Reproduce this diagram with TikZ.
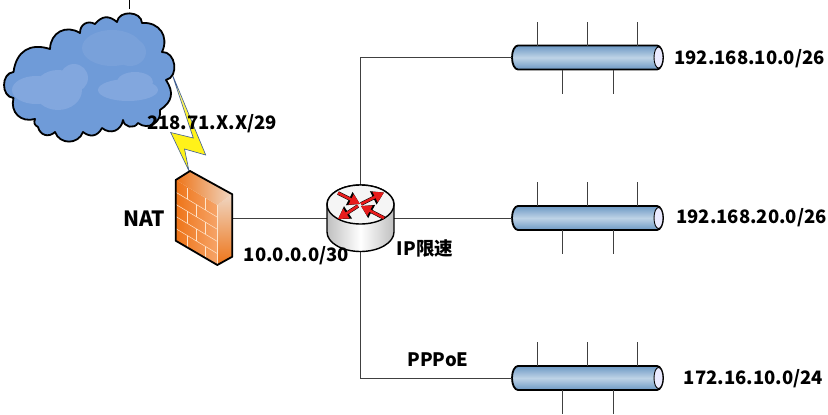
\documentclass[tikz,border=0pt]{standalone}
\usepackage{fontspec}
\setmainfont{Noto Sans CJK SC}
\usetikzlibrary{arrows.meta}
\definecolor{cloudbase}{HTML}{6F9BD8}
\definecolor{cloudlight}{HTML}{82A7DE}
\definecolor{cloudmid}{HTML}{79A1DA}
\definecolor{busedge}{HTML}{6C98C4}
\definecolor{busmid}{HTML}{BED3E6}
\definecolor{wallor}{HTML}{EE7418}
\definecolor{walllt}{HTML}{F6A468}
\definecolor{wallpale}{HTML}{EFD6C2}
\definecolor{boltyel}{HTML}{FFF21A}
\definecolor{boltline}{HTML}{3E5C94}
\definecolor{arrowred}{HTML}{E81C1C}
\tikzset{
  lbl/.style={font=\bfseries\fontsize{18.5}{20}\selectfont,text=black,inner sep=0pt,anchor=center},
  holder/.style={inner sep=0pt,outer sep=0pt},
  conn/.style={draw=black!75,line width=.8pt},
  heavy/.style={draw=black,line width=1.8pt,line join=round},
  brick/.style={draw=white!80!orange,line width=.5pt},
  redtail/.style={draw=black,line width=3.6pt,-{Triangle[length=12pt,width=14pt]}},
  redcore/.style={draw=arrowred,line width=2.6pt,-{Triangle[length=10pt,width=11pt]}},
}
\newcommand{\busat}[2]{%
  \node[holder,minimum width=151pt,minimum height=24pt] (#1) at (587.5,#2) {};
  \path[heavy,top color=busedge,bottom color=busedge,middle color=busmid]
    (518,#2-12) -- (657,#2-12) arc[start angle=-90,end angle=90,x radius=6,y radius=12]
    -- (518,#2+12) arc[start angle=90,end angle=270,x radius=6,y radius=12] -- cycle;
  \path[draw=black,line width=.9pt,fill=white!92!blue] (658.5,#2) ellipse[x radius=4.5,y radius=10.5];
  \foreach \tx in {537,587,637}{\coordinate (#1t\tx) at (\tx,#2-12); \draw[conn] (#1t\tx) -- ++(0,-24);}
  \foreach \tx in {562,613}{\coordinate (#1b\tx) at (\tx,#2+12); \draw[conn] (#1b\tx) -- ++(0,24);}
}
\begin{document}
\begin{tikzpicture}[x=1pt,y=-1pt]
\useasboundingbox (0,0) rectangle (828,415);
\fill[white] (0,0) rectangle (828,415);
% holders for icons
\node[holder,minimum width=57pt,minimum height=94pt] (wall) at (204,218) {};
\node[holder,minimum width=67pt,minimum height=66pt] (router) at (360.5,218) {};
\node[holder,minimum width=172pt,minimum height=130pt] (cloud) at (87,75) {};
\coordinate (cloudtop) at (129,0);
\coordinate (cloudpeak) at (129,9);
% connectors
\draw[conn] (wall.east) -- (router.west);
\busat{busa}{57.5}
\busat{busb}{218}
\busat{busc}{378}
\draw[conn] (router.north) |- (busa.west);
\draw[conn] (router.east) -- (busb.west);
\draw[conn] (router.south) |- (busc.west);
\draw[draw=black,line width=.8pt] (cloudtop) -- (cloudpeak);
% bolt
\path[draw=boltline,line width=.6pt,top color=white!75!boltyel,bottom color=boltyel,middle color=boltyel]
  (171.7,73) -- (205.7,155) -- (184.5,149) -- (189,171) -- (170.7,132.5) -- (193.3,138) -- cycle;
% cloud
\path[draw=black,line width=1.8pt,fill=cloudbase,line join=round,looseness=1.25]
  (13.5,98) to[bend left=85] (13.5,72)
  to[bend left=50] (50,49) to[bend left=60] (80,33)
  to[bend left=60] (95,24) to[bend left=45] (117,22)
  to[bend left=85] (142,23) to[bend left=60] (162,52)
  to[bend left=85] (166,80) to[bend left=45] (160,110)
  to[bend left=70] (138,123) to[bend left=70] (123,120)
  to[bend left=60] (102,128) to[bend left=50] (83,132)
  to[bend left=70] (55,132) to[bend left=60] (38,127)
  to[bend left=40] (35,119) to[bend left=60] cycle;
\fill[cloudmid] (112,48) ellipse[x radius=30,y radius=18];
\fill[cloudmid] (130,52) ellipse[x radius=16,y radius=14];
\fill[cloudlight] (36,90) ellipse[x radius=24,y radius=14];
\fill[cloudlight] (58,90) ellipse[x radius=24,y radius=20];
\fill[cloudlight] (74,78) ellipse[x radius=14,y radius=14];
\fill[cloudlight] (128,90) ellipse[x radius=30,y radius=11];
\fill[cloudlight] (135,82) ellipse[x radius=18,y radius=10];
% firewall
\path[left color=wallor,right color=walllt] (175.7,180) -- (217.3,205) -- (217.3,265) -- (175.7,240.7) -- cycle;
\path[top color=wallpale,bottom color=wallor] (217.3,205) -- (232.3,194.3) -- (232.3,256.7) -- (217.3,265) -- cycle;
\path[left color=wallor,right color=wallpale] (175.7,180) -- (190,171) -- (232.3,194.3) -- (217.3,205) -- cycle;
\begin{scope}[shift={(175.7,180)},x={(41.6pt,-25pt)},y={(0pt,-60.7pt)}]
  \foreach \v in {.2,.4,.6,.8}{\draw[brick] (0,\v) -- (1,\v);}
  \draw[brick] (.28,0.02) -- (.28,.2) (.72,.0) -- (.72,.2);
  \draw[brick] (.5,.2) -- (.5,.4);
  \draw[brick] (.28,.4) -- (.28,.6) (.72,.4) -- (.72,.6);
  \draw[brick] (.5,.6) -- (.5,.8);
  \draw[brick] (.28,.8) -- (.28,1) (.72,.8) -- (.72,1);
  \draw[brick] (1,0) -- (1,1);
\end{scope}
\draw[heavy] (175.7,180) -- (190,171) -- (232.3,194.3) -- (232.3,256.7) -- (217.3,265) -- (175.7,240.7) -- cycle;
% router
\path[draw=black,line width=1.4pt,left color=black!25,right color=black!25,middle color=white]
  (327,204.5) -- (327,232) arc[start angle=180,end angle=0,x radius=33.5,y radius=19.5]
  -- (394,204.5) arc[start angle=0,end angle=-180,x radius=33.5,y radius=19.5] -- cycle;
\path[draw=black,line width=1.4pt,fill=black!4] (360.5,204.5) ellipse[x radius=33.5,y radius=19.5];
\coordinate (ra1) at (338,193); \coordinate (rh1) at (360,204);
\coordinate (ra2) at (361,204); \coordinate (rh2) at (384,192.5);
\coordinate (ra3) at (358,206); \coordinate (rh3) at (338,219);
\coordinate (ra4) at (384,218); \coordinate (rh4) at (361,206);
\foreach \i in {1,2,3,4}{\draw[redtail] (ra\i) -- (rh\i);}
\foreach \i in {1,2,3,4}{\draw[redcore] (ra\i) -- (rh\i);}
% labels
\node[lbl] (lwan) at (212,123.5) {218.71.X.X/29};
\node[lbl,font=\bfseries\fontsize{21}{22}\selectfont] (lnat) at (144.5,218.5) {NAT};
\node[lbl] (lten) at (296.5,255.5) {10.0.0.0/30};
\node[lbl] (lip) at (425,249) {IP限速};
\node[lbl] (lppp) at (438,359.5) {PPPoE};
\node[lbl] (la) at (749.5,58.5) {192.168.10.0/26};
\node[lbl] (lb) at (751.5,217.5) {192.168.20.0/26};
\node[lbl] (lc) at (753.5,378.5) {172.16.10.0/24};
\end{tikzpicture}
\end{document}
